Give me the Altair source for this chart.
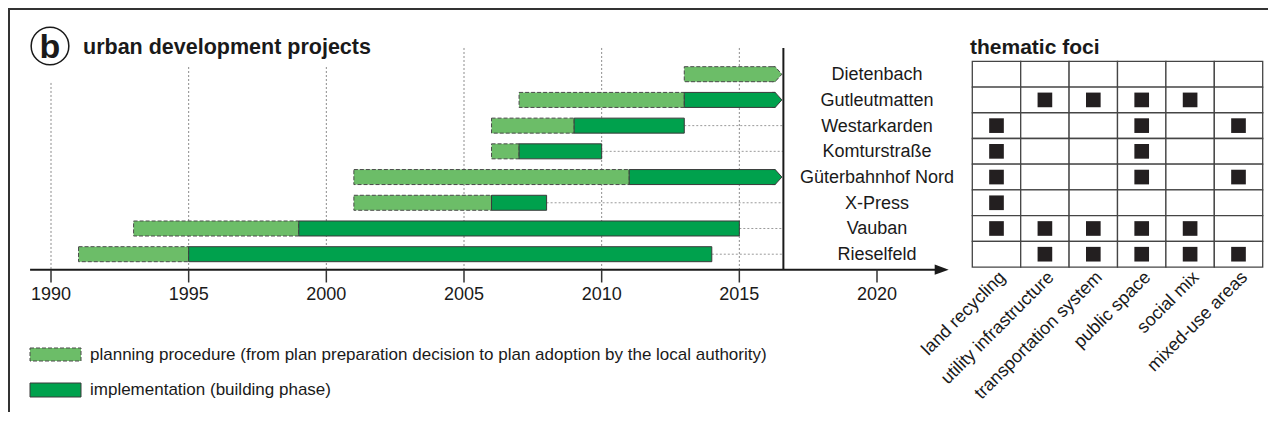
import altair as alt
import pandas as pd

# ---------------- data ----------------
projects = ["Dietenbach", "Gutleutmatten", "Westarkarden", "Komturstraße",
            "Güterbahnhof Nord", "X-Press", "Vauban", "Rieselfeld"]
plan_start = [2013, 2007, 2006, 2006, 2001, 2001, 1993, 1991]
plan_end = [None, 2013, 2009, 2007, 2011, 2006, 1999, 1995]      # None = still running
impl_start = [None, 2013, 2009, 2007, 2011, 2006, 1999, 1995]    # None = not started
impl_end = [None, None, 2013, 2010, None, 2008, 2015, 2014]      # None = still running
status_year = 2016.6
tick_years = [1990, 1995, 2000, 2005, 2010, 2015, 2020]
grid_years = [1990, 1995, 2000, 2005, 2010, 2015]

themes = ["land recycling", "utility infrastructure", "transportation system",
          "public space", "social mix", "mixed-use areas"]
foci = [
    [0, 0, 0, 0, 0, 0],
    [0, 1, 1, 1, 1, 0],
    [1, 0, 0, 1, 0, 1],
    [1, 0, 0, 1, 0, 0],
    [1, 0, 0, 1, 0, 1],
    [1, 0, 0, 0, 0, 0],
    [1, 1, 1, 1, 1, 0],
    [0, 1, 1, 1, 1, 1],
]
legend_labels = ["planning procedure (from plan preparation decision to plan adoption by the local authority)",
                 "implementation (building phase)"]

# ---------------- layout constants ----------------
W, H = 1260, 404
LIGHT = "#6cbd68"
DARK = "#00a14d"
FONT = "Liberation Sans"
AXIS_ROW = 7.6
ARROW_BACK = 0.3
grid_tops = [0.34, -0.28, -0.28, -1.02, -1.02, -1.02]

XY = alt.Scale(domain=[1990, 2020], range=[43, 869], nice=False, zero=False, padding=0)
XC = alt.Scale(domain=[0, 6], range=[964.3, 1254.7], nice=False, zero=False, padding=0)
YS = alt.Scale(domain=[0, 7], range=[66.2, 246.2], nice=False, zero=False, padding=0)

arrow_x = status_year - ARROW_BACK

rows = []
for i, p in enumerate(projects):
    pe = plan_end[i] if plan_end[i] is not None else arrow_x
    has_impl = impl_start[i] is not None
    ie = (impl_end[i] if impl_end[i] is not None else arrow_x) if has_impl else None
    ongoing = (plan_end[i] is None) or (has_impl and impl_end[i] is None)
    last = ie if has_impl else pe
    rows.append(dict(project=p, row=i, ps=plan_start[i], pe=pe,
                     is_=impl_start[i], ie=ie, has_impl=has_impl,
                     ongoing=ongoing, last=last, status=status_year,
                     tipphase=("impl" if has_impl else "plan")))
df = pd.DataFrame(rows)

grid_df = pd.DataFrame({"year": grid_years, "top": grid_tops, "bottom": AXIS_ROW})
tick_df = pd.DataFrame({"year": tick_years, "y0": AXIS_ROW, "y1": AXIS_ROW + 0.5,
                        "ly": AXIS_ROW + 1.0, "label": [str(t) for t in tick_years]})
cells = []
for r, vals in enumerate(foci):
    for c, v in enumerate(vals):
        cells.append(dict(ri=r, ci=c, v=v))
cell_df = pd.DataFrame(cells)
theme_df = pd.DataFrame({"theme": themes, "ci": list(range(len(themes)))})
one = pd.DataFrame({"a": [0]})


def X(field, scale=XY):
    return alt.X(field, scale=scale, axis=None)


def Y(field):
    return alt.Y(field, scale=YS, axis=None)


base = alt.Chart(df)

grid = alt.Chart(grid_df).mark_rule(color="#8c8c8c", strokeDash=[2, 2], strokeWidth=1).encode(
    x=X("year:Q"), y=Y("top:Q"), y2="bottom:Q")

connectors = base.transform_filter("!datum.ongoing").mark_rule(
    color="#9a9a9a", strokeDash=[2, 2], strokeWidth=1).encode(
    x=X("last:Q"), x2="status:Q", y=Y("row:Q"))

plan_bars = base.mark_bar(size=15, color=LIGHT, stroke="#4a4a4a", strokeWidth=1,
                          strokeDash=[4, 2]).encode(x=X("ps:Q"), x2="pe:Q", y=Y("row:Q"))

impl_bars = base.transform_filter("datum.has_impl").mark_bar(
    size=15, color=DARK, stroke="#3a3a3a", strokeWidth=1).encode(
    x=X("is_:Q"), x2="ie:Q", y=Y("row:Q"))

TIP = "M-0.4,-1L0,-1L0.9,0L0,1L-0.4,1"
tips_plan = base.transform_filter("datum.ongoing && datum.tipphase == 'plan'").mark_point(
    shape=TIP, size=225, filled=True, fill=LIGHT, stroke="#4a4a4a", strokeWidth=1,
    strokeDash=[4, 2], opacity=1).encode(x=X("pe:Q"), y=Y("row:Q"))
tips_impl = base.transform_filter("datum.ongoing && datum.tipphase == 'impl'").mark_point(
    shape=TIP, size=225, filled=True, fill=DARK, stroke="#3a3a3a", strokeWidth=1,
    opacity=1).encode(x=X("ie:Q"), y=Y("row:Q"))

vline = alt.Chart(pd.DataFrame({"x": [status_year], "y0": [-1.02], "y1": [AXIS_ROW]})).mark_rule(
    color="#1a1a1a", strokeWidth=2).encode(x=X("x:Q"), y=Y("y0:Q"), y2="y1:Q")

axis_line = alt.Chart(pd.DataFrame({"x0": [1989.24], "x1": [2022.2], "y": [AXIS_ROW]})).mark_rule(
    color="#1a1a1a", strokeWidth=2).encode(x=X("x0:Q"), x2="x1:Q", y=Y("y:Q"))
arrow_head = alt.Chart(pd.DataFrame({"x": [2022.35], "y": [AXIS_ROW]})).mark_point(
    shape="M-1,-0.72L1,0L-1,0.72Z", size=196, filled=True, fill="#1a1a1a",
    strokeWidth=0, opacity=1).encode(x=X("x:Q"), y=Y("y:Q"))

ticks = alt.Chart(tick_df).mark_rule(color="#333333", strokeWidth=1.5).encode(
    x=X("year:Q"), y=Y("y0:Q"), y2="y1:Q")
tick_labels = alt.Chart(tick_df).mark_text(font=FONT, fontSize=18, color="#1a1a1a",
                                           baseline="middle").encode(
    x=X("year:Q"), y=Y("ly:Q"), text="label:N")

row_labels = base.transform_calculate(lx="2020").mark_text(
    font=FONT, fontSize=18, color="#1a1a1a", baseline="middle", dy=1).encode(
    x=X("lx:Q"), y=Y("row:Q"), text="project:N")

cell_rects = alt.Chart(cell_df).transform_calculate(
    x1="datum.ci + 1", y0="datum.ri - 0.5", y1="datum.ri + 0.5").mark_rect(
    fill="white", stroke="#454545", strokeWidth=1.3).encode(
    x=X("ci:Q", XC), x2="x1:Q", y=Y("y0:Q"), y2="y1:Q")
squares = alt.Chart(cell_df).transform_filter("datum.v == 1").transform_calculate(
    cx="datum.ci + 0.5").mark_square(size=215, color="#231f20", opacity=1).encode(
    x=X("cx:Q", XC), y=Y("ri:Q"))
theme_labels = alt.Chart(theme_df).transform_calculate(
    lx="datum.ci + 0.63", ly="7.8").mark_text(
    font=FONT, fontSize=18, color="#1a1a1a", angle=315, align="right", baseline="middle").encode(
    x=X("lx:Q", XC), y=Y("ly:Q"), text="theme:N")

circle_b = alt.Chart(one).mark_point(shape="circle", size=1420, filled=False, stroke="#1a1a1a",
                                     strokeWidth=1.5, opacity=1).encode(
    x=alt.value(42), y=alt.value(38))
letter_b = alt.Chart(one).mark_text(font=FONT, fontSize=34, fontWeight="bold", color="#1a1a1a",
                                    baseline="alphabetic").encode(
    x=alt.value(42), y=alt.value(50), text=alt.value("b"))
title_left = alt.Chart(one).mark_text(font=FONT, fontSize=21.5, fontWeight="bold", color="#1a1a1a",
                                      align="left", baseline="alphabetic").encode(
    x=alt.value(75), y=alt.value(46), text=alt.value("urban development projects"))
title_right = alt.Chart(one).mark_text(font=FONT, fontSize=21, fontWeight="bold", color="#1a1a1a",
                                       align="left", baseline="alphabetic").encode(
    x=alt.value(962), y=alt.value(46), text=alt.value("thematic foci"))

leg_plan = alt.Chart(one).mark_rect(fill=LIGHT, stroke="#4a4a4a", strokeWidth=1,
                                    strokeDash=[4, 2]).encode(
    x=alt.value(22), x2=alt.value(73), y=alt.value(340), y2=alt.value(353))
leg_impl = alt.Chart(one).mark_rect(fill=DARK, stroke="#3a3a3a", strokeWidth=1).encode(
    x=alt.value(22), x2=alt.value(73), y=alt.value(375), y2=alt.value(389))
leg_text1 = alt.Chart(one).mark_text(font=FONT, fontSize=17, color="#1a1a1a", align="left",
                                     baseline="middle").encode(
    x=alt.value(82), y=alt.value(347), text=alt.value(legend_labels[0]))
leg_text2 = alt.Chart(one).mark_text(font=FONT, fontSize=17, color="#1a1a1a", align="left",
                                     baseline="middle").encode(
    x=alt.value(82), y=alt.value(382), text=alt.value(legend_labels[1]))

frame_top = alt.Chart(one).mark_rule(color="#333333", strokeWidth=2).encode(
    x=alt.value(0), x2=alt.value(W), y=alt.value(1))
frame_left = alt.Chart(one).mark_rule(color="#333333", strokeWidth=2).encode(
    x=alt.value(1), y=alt.value(0), y2=alt.value(H))

chart = alt.layer(
    grid, connectors, plan_bars, impl_bars, tips_plan, tips_impl, vline,
    axis_line, arrow_head, ticks, tick_labels, row_labels,
    cell_rects, squares, theme_labels,
    circle_b, letter_b, title_left, title_right,
    leg_plan, leg_impl, leg_text1, leg_text2,
    frame_top, frame_left,
).resolve_scale(x="independent").properties(
    width=W, height=H, padding=0, autosize=alt.AutoSizeParams(type="none"),
    background="white",
).configure_view(stroke=None)

chart.save("out.html", embed_options={"renderer": "svg", "actions": False})
